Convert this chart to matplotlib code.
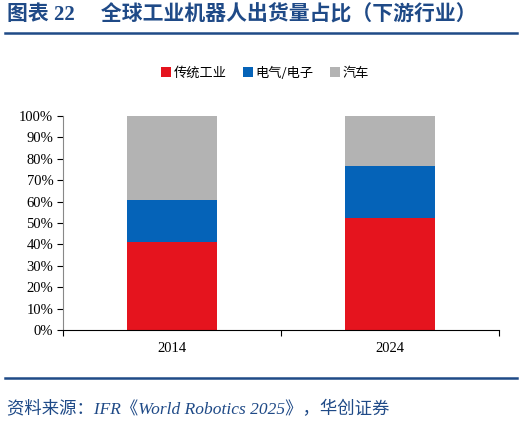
import matplotlib.pyplot as plt
import numpy as np

plt.rcParams['font.family'] = ['Liberation Serif', 'Noto Sans CJK SC']

YEARS = ["2014", "2024"]
SEGMENTS = ["传统工业", "电气/电子", "汽车"]
INDUSTRY = [41.3, 52.5]
ELECTRONICS = [19.4, 24.3]
AUTO = [39.3, 23.2]
COLORS = ["#E5141E", "#0563B8", "#B3B3B3"]

TITLE = "图表 22　 全球工业机器人出货量占比（下游行业）"
SOURCE = "资料来源：IFR《World Robotics 2025》，华创证券"
NAVY = "#1F4A87"

fig = plt.figure(figsize=(5.24, 4.25), dpi=100)
ax = fig.add_axes([63 / 524, 1 - 330 / 425, 436 / 524, 214 / 425])

x = np.arange(len(YEARS))
bottom = np.zeros(len(YEARS))
for name, vals, color in zip(SEGMENTS, [INDUSTRY, ELECTRONICS, AUTO], COLORS):
    ax.bar(x, vals, bottom=bottom, width=0.41, color=color, label=name)
    bottom += np.asarray(vals)

ax.set_xlim(-0.5, len(YEARS) - 0.5)
ax.set_ylim(0, 100)
ax.set_yticks(np.arange(0, 101, 10))
ax.set_yticklabels([f"{v}%" for v in range(0, 101, 10)], fontsize=10.5)
ax.set_xticks([-0.5, 0.5, 1.5], minor=False)
ax.set_xticklabels([])
ax.set_xticks(x, minor=True)
ax.set_xticklabels(YEARS, minor=True, fontsize=10.5)
ax.tick_params(axis="x", which="minor", length=0, pad=9)
ax.tick_params(axis="x", which="major", length=4, direction="out", width=0.8)
ax.tick_params(axis="y", length=4, direction="out", width=0.8, pad=3)
for side in ["top", "right"]:
    ax.spines[side].set_visible(False)
ax.spines["left"].set_color("#888888")
ax.spines["bottom"].set_color("black")

ax.legend(loc="center", bbox_to_anchor=(265 / 524, 1 - 73 / 425),
          bbox_transform=fig.transFigure, ncol=3, frameon=False,
          handlelength=0.8, handleheight=0.8, handletextpad=0.2,
          columnspacing=1.2, prop={"family": "Noto Sans CJK SC", "size": 9.5})

fig.text(7 / 524, 1 - 15 / 425, TITLE, fontsize=15, fontweight="bold",
         color=NAVY, va="center", ha="left",
         family=["Liberation Serif", "Noto Sans CJK SC"])
fig.add_artist(plt.Line2D([5 / 524, 517 / 524], [1 - 33 / 425] * 2,
                          color=NAVY, linewidth=1.8))
fig.add_artist(plt.Line2D([5 / 524, 517 / 524], [1 - 378 / 425] * 2,
                          color=NAVY, linewidth=1.8))
fig.text(7 / 524, 1 - 410 / 425, SOURCE, fontsize=12.5, style="italic",
         color=NAVY, va="center", ha="left",
         family=["Liberation Serif", "Noto Sans CJK SC"])

fig.savefig("out.png", dpi=100)
